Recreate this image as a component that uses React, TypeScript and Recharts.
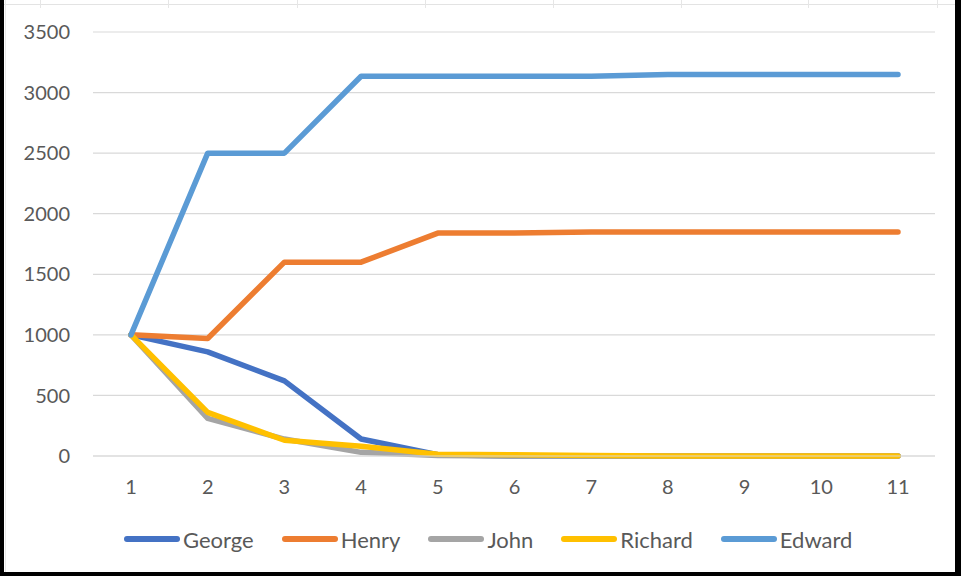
import { LineChart, Line, XAxis, YAxis, CartesianGrid } from "recharts";

const categories = [1, 2, 3, 4, 5, 6, 7, 8, 9, 10, 11];

const george = [1000, 860, 620, 140, 10, 0, 0, 0, 0, 0, 0];
const henry = [1000, 970, 1600, 1600, 1840, 1840, 1850, 1850, 1850, 1850, 1850];
const john = [1000, 310, 140, 30, 5, 0, 0, 0, 0, 0, 0];
const richard = [1000, 360, 130, 80, 15, 10, 5, 0, 0, 0, 0];
const edward = [1000, 2500, 2500, 3135, 3135, 3135, 3135, 3150, 3150, 3150, 3150];

const yTicks = [0, 500, 1000, 1500, 2000, 2500, 3000, 3500];

const series = [
  { key: "George", values: george, color: "#4472C4" },
  { key: "Henry", values: henry, color: "#ED7D31" },
  { key: "John", values: john, color: "#A5A5A5" },
  { key: "Richard", values: richard, color: "#FFC000" },
  { key: "Edward", values: edward, color: "#5B9BD5" },
];

const data = categories.map((c, i) => {
  const row: Record<string, number | string> = { cat: String(c) };
  series.forEach((s) => (row[s.key] = s.values[i]));
  return row;
});

const font = "Lato, 'Open Sans', sans-serif";
const textColor = "#595959";
const sheetCols = [40, 168, 297, 425, 553, 681, 808, 937];

export default function App() {
  return (
    <div
      style={{
        position: "fixed",
        left: 0,
        top: 0,
        width: 961,
        height: 576,
        background: "#fff",
        overflow: "hidden",
        fontFamily: font,
      }}
    >
      {/* faint spreadsheet grid peeking in at the top */}
      <div style={{ position: "absolute", left: 4, right: 6, top: 4, height: 1, background: "#e3e3e3" }} />
      {sheetCols.map((x) => (
        <div key={x} style={{ position: "absolute", left: x, top: 0, width: 1, height: 8, background: "#e6e6e6" }} />
      ))}
      <div style={{ position: "absolute", left: 5, top: 0, bottom: 4, width: 1, background: "#e8e8e8" }} />

      <div style={{ position: "absolute", left: 0, top: 0 }}>
        <LineChart
          width={961}
          height={576}
          data={data}
          margin={{ top: 32, right: 26, left: 0, bottom: 70 }}
        >
          <CartesianGrid vertical={false} stroke="#D9D9D9" strokeWidth={1.2} />
          <XAxis
            dataKey="cat"
            height={50}
            tickSize={0}
            tickMargin={24}
            padding={{ left: 38, right: 37 }}
            axisLine={{ stroke: "#D9D9D9", strokeWidth: 1.2 }}
            tick={{ fill: textColor, fontSize: 20, fontFamily: font }}
            interval={0}
          />
          <YAxis
            width={93}
            domain={[0, 3500]}
            ticks={yTicks}
            tickSize={0}
            tickMargin={23}
            axisLine={false}
            tick={{ fill: textColor, fontSize: 20, fontFamily: font }}
          />
          {series.map((s) => (
            <Line
              key={s.key}
              dataKey={s.key}
              stroke={s.color}
              strokeWidth={5.5}
              strokeLinejoin="round"
              strokeLinecap="round"
              dot={false}
              activeDot={false}
              isAnimationActive={false}
            />
          ))}
        </LineChart>
      </div>

      {/* legend */}
      <div
        style={{
          position: "absolute",
          left: 124,
          top: 525,
          height: 28,
          display: "flex",
          alignItems: "center",
          gap: 28,
          color: textColor,
          fontSize: 22,
        }}
      >
        {series.map((s) => (
          <div key={s.key} style={{ display: "flex", alignItems: "center", gap: 3 }}>
            <span style={{ width: 56, height: 6, borderRadius: 3, background: s.color }} />
            <span>{s.key}</span>
          </div>
        ))}
      </div>

      {/* black frame */}
      <div style={{ position: "absolute", left: 0, top: 0, bottom: 0, width: 4, background: "#000" }} />
      <div style={{ position: "absolute", right: 0, top: 0, bottom: 0, width: 6, background: "#000" }} />
      <div style={{ position: "absolute", left: 0, right: 0, bottom: 0, height: 4, background: "#000" }} />
    </div>
  );
}
